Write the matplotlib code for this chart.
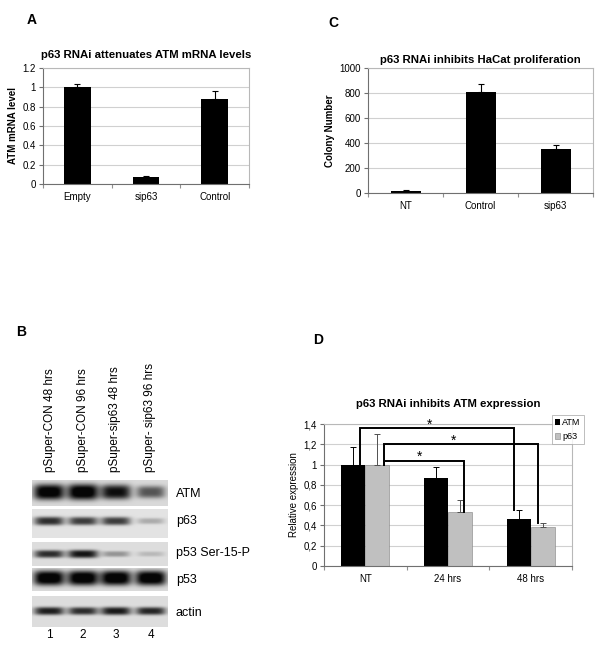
import matplotlib
matplotlib.use('Agg')
import matplotlib.pyplot as plt
import numpy as np

plt.rcParams['font.family'] = ['Liberation Sans', 'DejaVu Sans']

# panel A: ATM mRNA
a_labels = ['Empty', 'sip63', 'Control']
a_values = [1.0, 0.07, 0.875]
a_errors = [0.03, 0.01, 0.09]

# panel C: colony numbers
c_labels = ['NT', 'Control', 'sip63']
c_values = [15, 810, 355]
c_errors = [10, 62, 28]

# panel D: relative expression
d_labels = ['NT', '24 hrs', '48 hrs']
d_atm = [1.0, 0.87, 0.46]
d_atm_err = [0.17, 0.11, 0.09]
d_p63 = [1.0, 0.53, 0.385]
d_p63_err = [0.30, 0.12, 0.04]
# (series, first group, second group, bracket height)
d_signif = [('ATM', 0, 2, 1.36), ('p63', 0, 2, 1.20), ('p63', 0, 1, 1.04)]

# panel B: western blot, band darkness per lane
b_lanes = ['pSuper-CON 48 hrs', 'pSuper-CON 96 hrs',
           'pSuper-sip63 48 hrs', 'pSuper- sip63 96 hrs']
b_rows = ['ATM', 'p63', 'p53 Ser-15-P', 'p53', 'actin']
b_atm = [0.97, 1.0, 0.85, 0.55]
b_p63 = [0.72, 0.66, 0.66, 0.22]
b_ser15 = [0.72, 0.82, 0.3, 0.15]
b_p53 = [1.0, 1.0, 1.0, 1.0]
b_actin = [0.78, 0.72, 0.8, 0.75]

W, H = 600, 652
fig = plt.figure(figsize=(W / 100, H / 100), dpi=100)


def px_axes(left, top, right, bottom):
    return fig.add_axes([left / W, 1 - bottom / H, (right - left) / W,
                         (bottom - top) / H])


def excel_style(ax, yticks, ylabels, xlabels, bold_ylabel, ylabel):
    ax.set_xlim(-0.5, 2.5)
    ax.set_ylim(yticks[0], yticks[-1])
    ax.set_yticks(yticks)
    ax.set_yticklabels(ylabels, fontsize=7)
    ax.set_xticks([-0.5, 0.5, 1.5, 2.5])
    ax.set_xticklabels([])
    ax.set_xticks([0, 1, 2], minor=True)
    ax.set_xticklabels(xlabels, minor=True, fontsize=7)
    ax.tick_params(axis='x', which='minor', length=0, pad=6)
    ax.tick_params(axis='x', which='major', length=3, color='#909090')
    ax.tick_params(axis='y', length=3, color='#707070', pad=2)
    ax.yaxis.grid(True, color='#d0d0d0', lw=0.8)
    ax.set_axisbelow(True)
    for s in ['left', 'bottom']:
        ax.spines[s].set_color('#707070')
    for s in ['top', 'right']:
        ax.spines[s].set_color('#b8b8b8')
    ax.set_ylabel(ylabel, fontsize=7,
                  fontweight='bold' if bold_ylabel else 'normal', labelpad=3)


# ---- panel A
axA = px_axes(43, 68, 249, 184)
x = np.arange(len(a_labels))
axA.bar(x, a_values, width=0.39, color='black', zorder=2,
        yerr=[np.zeros(3), a_errors], error_kw=dict(lw=0.8, capsize=2.5,
                                                  capthick=0.8))
excel_style(axA, [0, 0.2, 0.4, 0.6, 0.8, 1.0, 1.2],
            ['0', '0.2', '0.4', '0.6', '0.8', '1', '1.2'],
            a_labels, True, 'ATM mRNA level')
axA.set_title('p63 RNAi attenuates ATM mRNA levels', fontsize=8.2,
              fontweight='bold', pad=7)

# ---- panel C
axC = px_axes(368, 68, 593, 193)
axC.bar(x, c_values, width=0.4, color='black', zorder=2,
        yerr=[np.zeros(3), c_errors], error_kw=dict(lw=0.8, capsize=2.5,
                                                  capthick=0.8))
excel_style(axC, [0, 200, 400, 600, 800, 1000],
            ['0', '200', '400', '600', '800', '1000'],
            c_labels, True, 'Colony Number')
axC.set_title('p63 RNAi inhibits HaCat proliferation', fontsize=8.2,
              fontweight='bold', pad=3.5)

# ---- panel D
axD = px_axes(324, 424, 572, 566)
bw = 0.29
xa = x - bw / 2
xp = x + bw / 2
axD.bar(xa, d_atm, width=bw, color='black', zorder=2, label='ATM',
        yerr=[np.zeros(3), d_atm_err], error_kw=dict(lw=0.7, capsize=2,
                                                   capthick=0.7))
axD.bar(xp, d_p63, width=bw, color='#c0c0c0', zorder=2, label='p63',
        edgecolor='#808080', linewidth=0.4,
        yerr=[np.zeros(3), d_p63_err], error_kw=dict(lw=0.7, capsize=2,
                                                   capthick=0.7,
                                                   ecolor='#505050'))
excel_style(axD, [0, 0.2, 0.4, 0.6, 0.8, 1.0, 1.2, 1.4],
            ['0', '0,2', '0,4', '0,6', '0,8', '1', '1,2', '1,4'],
            d_labels, False, 'Relative expression')
axD.set_title('p63 RNAi inhibits ATM expression', fontsize=8.2,
              fontweight='bold', pad=12)
series = {'ATM': (xa, d_atm, d_atm_err), 'p63': (xp, d_p63, d_p63_err)}
for name, g1, g2, h in d_signif:
    xs, vals, errs = series[name]
    x1 = xs[g1] + 0.075
    if g2 == 2:
        # line ends on the error bar top
        x2 = xs[g2] - 0.055
        y2 = vals[g2] + errs[g2]
    else:
        x2 = xs[g2] + 0.05
        y2 = vals[g2]
    axD.plot([x1, x1, x2, x2], [vals[g1], h, h, y2], color='black', lw=1.4,
             clip_on=False, zorder=3, solid_joinstyle='miter')
    axD.text(x1 + 0.45 * (x2 - x1), h - 0.005, '*', fontsize=10,
             ha='center', va='baseline', clip_on=False)
leg = axD.legend(loc='upper left', bbox_to_anchor=(0.918, 1.065),
                 fontsize=6.5, frameon=True, fancybox=False,
                 handlelength=0.6, handleheight=0.6, handletextpad=0.2,
                 borderpad=0.35, labelspacing=0.55, borderaxespad=0)
leg.get_frame().set_edgecolor('#a0a0a0')
leg.get_frame().set_linewidth(0.6)

# ---- panel B (blot) on an overlay in pixel coordinates
ov = fig.add_axes([0, 0, 1, 1])
ov.set_xlim(0, W)
ov.set_ylim(H, 0)
ov.axis('off')

blot_x0, blot_x1 = 32, 168
lane_x = [49, 83, 116, 151]
# (top, bottom, background, band centre, band half height, darkness)
blot_rows = [
    (480, 506, 0.85, 492, 8.0, b_atm),
    (509, 538, 0.89, 521, 5.0, b_p63),
    (542, 566, 0.87, 554, 4.5, b_ser15),
    (568, 591, 0.86, 578, 7.5, b_p53),
    (596, 627, 0.87, 611, 4.5, b_actin),
]
label_y = [494, 521, 553, 580, 613]
for (top, bot, bg, cy, hh, dark), lab, ly in zip(blot_rows, b_rows, label_y):
    gx = np.linspace(blot_x0, blot_x1, 2 * (blot_x1 - blot_x0))
    gy = np.linspace(top, bot, 2 * (bot - top))
    X, Y = np.meshgrid(gx, gy)
    d = np.zeros_like(X)
    for lx, v in zip(lane_x, dark):
        hw = 15.5 * (0.85 + 0.15 * v)
        h_ = hh * (0.5 + 0.5 * v)
        d += v * np.exp(-(np.abs(X - lx) / hw) ** 4) * \
            np.exp(-(np.abs(Y - cy) / h_) ** 3)
    img = bg * (1 - np.clip(1.15 * d, 0, 1) * 0.97)
    ov.imshow(img, cmap='gray', vmin=0, vmax=1, interpolation='bilinear',
              extent=[blot_x0, blot_x1, bot, top], aspect='auto')
    ov.text(176, ly, lab, fontsize=9, va='center', ha='left')
ov.set_xlim(0, W)
ov.set_ylim(H, 0)

for lx, lab in zip([50, 83, 115, 150], b_lanes):
    ov.text(lx, 472, lab, rotation=90, fontsize=8.5, ha='center',
            va='bottom')
for i, lx in enumerate(lane_x):
    ov.text(lx, 635, str(i + 1), fontsize=8.5, ha='center', va='center')

for lab, px, py in [('A', 32, 20), ('C', 333, 23), ('B', 21, 332),
                    ('D', 318, 340)]:
    ov.text(px, py, lab, fontsize=10, fontweight='bold', ha='center',
            va='center')

fig.savefig('out.png', dpi=100)
